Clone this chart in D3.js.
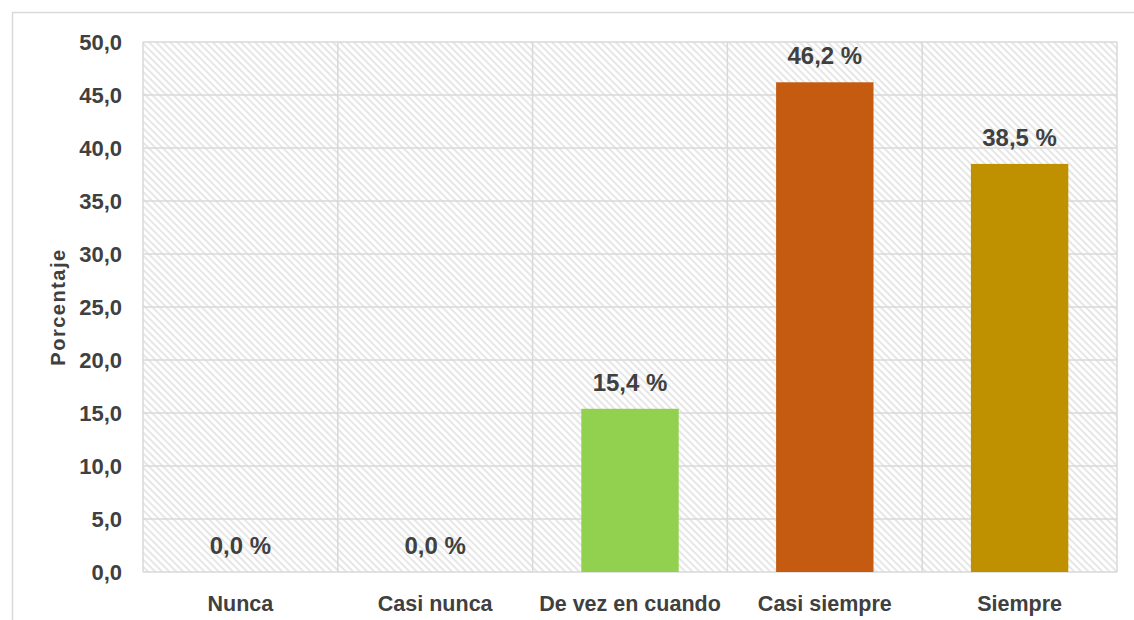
<!DOCTYPE html>
<html>
<head>
<meta charset="utf-8">
<script src="https://cdn.jsdelivr.net/npm/d3@7"></script>
<style>
  body { margin: 0; background: #fff; }
  text { font-family: "Liberation Sans", Arial, sans-serif; font-weight: bold; fill: #404040; }
</style>
</head>
<body>
<script>
// datos
let categorias = ["Nunca", "Casi nunca", "De vez en cuando", "Casi siempre", "Siempre"];
let valores = [0.0, 0.0, 15.4, 46.2, 38.5];
let colores = ["#92D050", "#92D050", "#92D050", "#C55A11", "#BF9000"];
let ticks = [0, 5, 10, 15, 20, 25, 30, 35, 40, 45, 50];

let margin = {top: 42, right: 17, bottom: 48, left: 143},
    width = 1134 - margin.left - margin.right,
    height = 620 - margin.top - margin.bottom;

let svg = d3.select("body").append("svg")
    .attr("width", 1134)
    .attr("height", 620);

// patron de rayas diagonales
let defs = svg.append("defs");
let pat = defs.append("pattern")
    .attr("id", "rayas")
    .attr("patternUnits", "userSpaceOnUse")
    .attr("width", 5).attr("height", 5)
    .attr("patternTransform", "rotate(45)");
pat.append("rect").attr("width", 5).attr("height", 5).attr("fill", "#fff");
pat.append("rect").attr("width", 5).attr("height", 1.8).attr("fill", "#e4e4e4");

// marco exterior
svg.append("rect")
    .attr("x", 12.5).attr("y", 12.5)
    .attr("width", 1134).attr("height", 620)
    .attr("fill", "none")
    .attr("stroke", "#d9d9d9")
    .attr("stroke-width", 1.5);

let g = svg.append("g")
    .attr("transform", "translate(" + margin.left + "," + margin.top + ")");

let x = d3.scaleBand()
    .domain(categorias)
    .range([0, width])
    .paddingInner(0)
    .paddingOuter(0);
let y = d3.scaleLinear()
    .domain([0, 50])
    .range([height, 0]);

g.append("rect")
    .attr("width", width).attr("height", height)
    .attr("fill", "url(#rayas)");

// rejilla horizontal
g.selectAll(".hgrid")
    .data(ticks)
    .enter().append("line")
    .attr("x1", 0).attr("x2", width)
    .attr("y1", d => y(d)).attr("y2", d => y(d))
    .attr("stroke", "#d9d9d9").attr("stroke-width", 1.5);

// rejilla vertical
let bordes = categorias.map(d => x(d)).concat([width]);
g.selectAll(".vgrid")
    .data(bordes)
    .enter().append("line")
    .attr("x1", d => d).attr("x2", d => d)
    .attr("y1", 0).attr("y2", height)
    .attr("stroke", "#d9d9d9").attr("stroke-width", 1.5);

// barras
let bw = x.bandwidth() * 0.5;
g.selectAll(".bar")
    .data(valores)
    .enter().append("rect")
    .attr("x", (d, i) => x(categorias[i]) + (x.bandwidth() - bw) / 2)
    .attr("width", bw)
    .attr("y", d => y(d))
    .attr("height", d => height - y(d))
    .attr("fill", (d, i) => colores[i]);

// etiquetas de datos
g.selectAll(".lbl")
    .data(valores)
    .enter().append("text")
    .attr("x", (d, i) => x(categorias[i]) + x.bandwidth() / 2)
    .attr("y", d => y(d) - 18)
    .attr("text-anchor", "middle")
    .style("font-size", "24px")
    .text(d => d.toFixed(1).replace(".", ",") + " %");

// eje y
g.selectAll(".ytick")
    .data(ticks)
    .enter().append("text")
    .attr("x", -21)
    .attr("y", d => y(d))
    .attr("dy", "0.35em")
    .attr("text-anchor", "end")
    .style("font-size", "22px")
    .text(d => d.toFixed(1).replace(".", ","));

// eje x
g.selectAll(".xtick")
    .data(categorias)
    .enter().append("text")
    .attr("x", d => x(d) + x.bandwidth() / 2)
    .attr("y", height + 31)
    .attr("dy", "0.35em")
    .attr("text-anchor", "middle")
    .style("font-size", "21.5px")
    .text(d => d);

// titulo eje y
svg.append("text")
    .attr("transform", "translate(58," + (margin.top + height / 2) + ") rotate(-90)")
    .attr("dy", "0.35em")
    .attr("text-anchor", "middle")
    .style("font-size", "20px")
    .style("letter-spacing", "1.5px")
    .text("Porcentaje");
</script>
</body>
</html>
